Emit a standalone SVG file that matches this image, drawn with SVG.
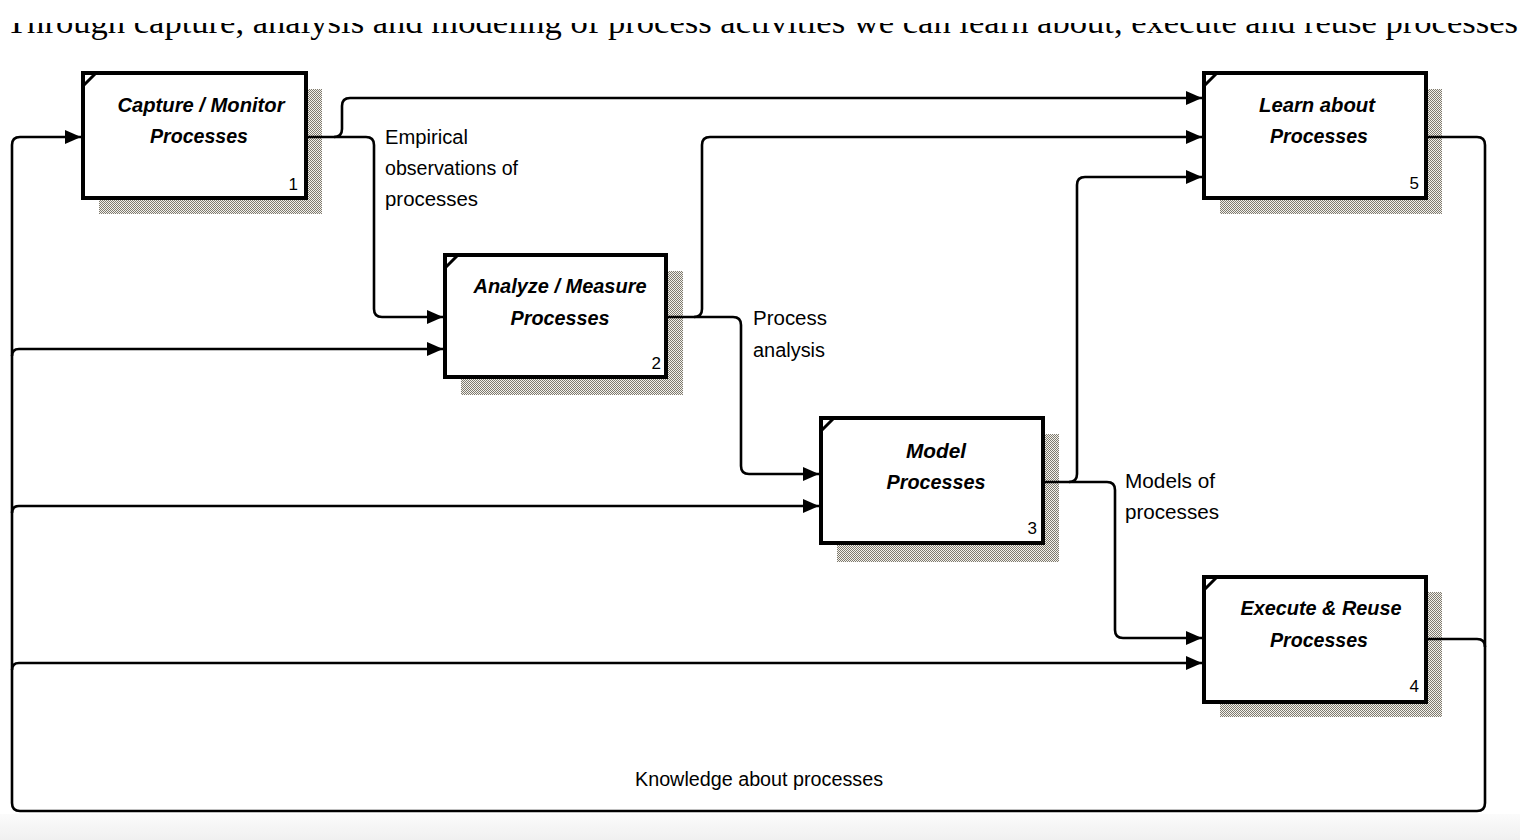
<svg xmlns="http://www.w3.org/2000/svg" width="1520" height="840" viewBox="0 0 1520 840">
<style>
.box{fill:#fff;stroke:#000;stroke-width:4}
.shadow{fill:url(#stip)}
.corner{stroke:#000;stroke-width:3;fill:none}
.title{font-family:"Liberation Sans",Arial,sans-serif;font-size:20px;font-style:italic;font-weight:bold;fill:#000;text-anchor:middle}
.num{font-family:"Liberation Sans",Arial,sans-serif;font-size:17px;fill:#000;text-anchor:end}
.lbl{font-family:"Liberation Sans",Arial,sans-serif;font-size:20px;fill:#000}
.c{fill:none;stroke:#000;stroke-width:2.6}
.ca{fill:none;stroke:#000;stroke-width:2.6;marker-end:url(#arr)}
.hdr{font-family:"Liberation Serif","Times New Roman",serif;font-size:32px;fill:#000}
</style>
<defs>
<pattern id="stip" width="2" height="2" patternUnits="userSpaceOnUse">
<rect width="2" height="2" fill="#f4f2ec"/>
<rect width="1" height="1" fill="#7e7a70"/>
<rect x="1" y="1" width="1" height="1" fill="#7e7a70"/>
</pattern>
<marker id="arr" markerUnits="userSpaceOnUse" markerWidth="17" markerHeight="14" refX="16" refY="7" orient="auto">
<path d="M0,0 L16,7 L0,14 z" fill="#000"/>
</marker>
<clipPath id="hclip"><rect x="0" y="23" width="1520" height="40"/></clipPath>
<linearGradient id="band" x1="0" y1="0" x2="0" y2="1">
<stop offset="0" stop-color="#fbfbfb"/>
<stop offset="1" stop-color="#f0f0f0"/>
</linearGradient>
</defs>
<rect width="1520" height="840" fill="#fff"/>
<rect x="0" y="814" width="1520" height="26" fill="url(#band)"/>
<text class="hdr" x="6" y="33" clip-path="url(#hclip)" textLength="1512" lengthAdjust="spacingAndGlyphs">Through capture, analysis and modeling of process activities we can learn about, execute and reuse processes</text>

<g id="node1">
<rect class="shadow" x="99" y="89" width="223" height="125"/>
<rect class="box" x="83" y="73" width="223" height="125"/>
<path class="corner" d="M83,86 L96,73"/>
<text class="title" x="201" y="112" textLength="167" lengthAdjust="spacingAndGlyphs">Capture / Monitor</text>
<text class="title" x="199" y="143" textLength="98" lengthAdjust="spacingAndGlyphs">Processes</text>
<text class="num" x="298" y="190">1</text>
</g>

<g id="node2">
<rect class="shadow" x="461" y="271" width="222" height="124"/>
<rect class="box" x="445" y="255" width="221" height="122"/>
<path class="corner" d="M445,268 L458,255"/>
<text class="title" x="560" y="293" textLength="173" lengthAdjust="spacingAndGlyphs">Analyze / Measure</text>
<text class="title" x="560" y="325" textLength="99" lengthAdjust="spacingAndGlyphs">Processes</text>
<text class="num" x="661" y="369">2</text>
</g>

<g id="node3">
<rect class="shadow" x="837" y="434" width="222" height="128"/>
<rect class="box" x="821" y="418" width="222" height="125"/>
<path class="corner" d="M821,431 L834,418"/>
<text class="title" x="936" y="458" textLength="60" lengthAdjust="spacingAndGlyphs">Model</text>
<text class="title" x="936" y="489" textLength="99" lengthAdjust="spacingAndGlyphs">Processes</text>
<text class="num" x="1037" y="534">3</text>
</g>

<g id="node4">
<rect class="shadow" x="1220" y="592" width="222" height="125"/>
<rect class="box" x="1204" y="577" width="222" height="125"/>
<path class="corner" d="M1204,590 L1217,577"/>
<text class="title" x="1321" y="615" textLength="161" lengthAdjust="spacingAndGlyphs">Execute &amp; Reuse</text>
<text class="title" x="1319" y="647" textLength="98" lengthAdjust="spacingAndGlyphs">Processes</text>
<text class="num" x="1419" y="692">4</text>
</g>

<g id="node5">
<rect class="shadow" x="1220" y="89" width="222" height="125"/>
<rect class="box" x="1204" y="73" width="222" height="125"/>
<path class="corner" d="M1204,86 L1217,73"/>
<text class="title" x="1317" y="112" textLength="116" lengthAdjust="spacingAndGlyphs">Learn about</text>
<text class="title" x="1319" y="143" textLength="98" lengthAdjust="spacingAndGlyphs">Processes</text>
<text class="num" x="1419" y="189">5</text>
</g>

<g id="connectors">
<path class="ca" d="M1426,137 H1477 Q1485,137 1485,145 V803 Q1485,811 1477,811 H20 Q12,811 12,803 V145 Q12,137 20,137 H81"/>
<path class="ca" d="M12,356 Q12,349 19,349 H443"/>
<path class="ca" d="M12,513 Q12,506 19,506 H819"/>
<path class="ca" d="M12,670 Q12,663 19,663 H1202"/>
<path class="ca" d="M306,137 H366 Q374,137 374,145 V309 Q374,317 382,317 H443"/>
<path class="ca" d="M334,137 Q342,137 342,129 V106 Q342,98 350,98 H1202"/>
<path class="ca" d="M666,317 H733 Q741,317 741,325 V466 Q741,474 749,474 H819"/>
<path class="ca" d="M694,317 Q702,317 702,309 V145 Q702,137 710,137 H1202"/>
<path class="ca" d="M1043,482 H1107 Q1115,482 1115,490 V630 Q1115,638 1123,638 H1202"/>
<path class="ca" d="M1069,482 Q1077,482 1077,474 V185 Q1077,177 1085,177 H1202"/>
<path class="c" d="M1426,639 H1477 Q1485,639 1485,647"/>
<text class="lbl" x="385" y="144" textLength="83" lengthAdjust="spacingAndGlyphs">Empirical</text>
<text class="lbl" x="385" y="175" textLength="133" lengthAdjust="spacingAndGlyphs">observations of</text>
<text class="lbl" x="385" y="206" textLength="93" lengthAdjust="spacingAndGlyphs">processes</text>
<text class="lbl" x="753" y="325" textLength="74" lengthAdjust="spacingAndGlyphs">Process</text>
<text class="lbl" x="753" y="357" textLength="72" lengthAdjust="spacingAndGlyphs">analysis</text>
<text class="lbl" x="1125" y="488" textLength="90" lengthAdjust="spacingAndGlyphs">Models of</text>
<text class="lbl" x="1125" y="519" textLength="94" lengthAdjust="spacingAndGlyphs">processes</text>
<text class="lbl" x="635" y="786" textLength="248" lengthAdjust="spacingAndGlyphs">Knowledge about processes</text>
</g>
</svg>
